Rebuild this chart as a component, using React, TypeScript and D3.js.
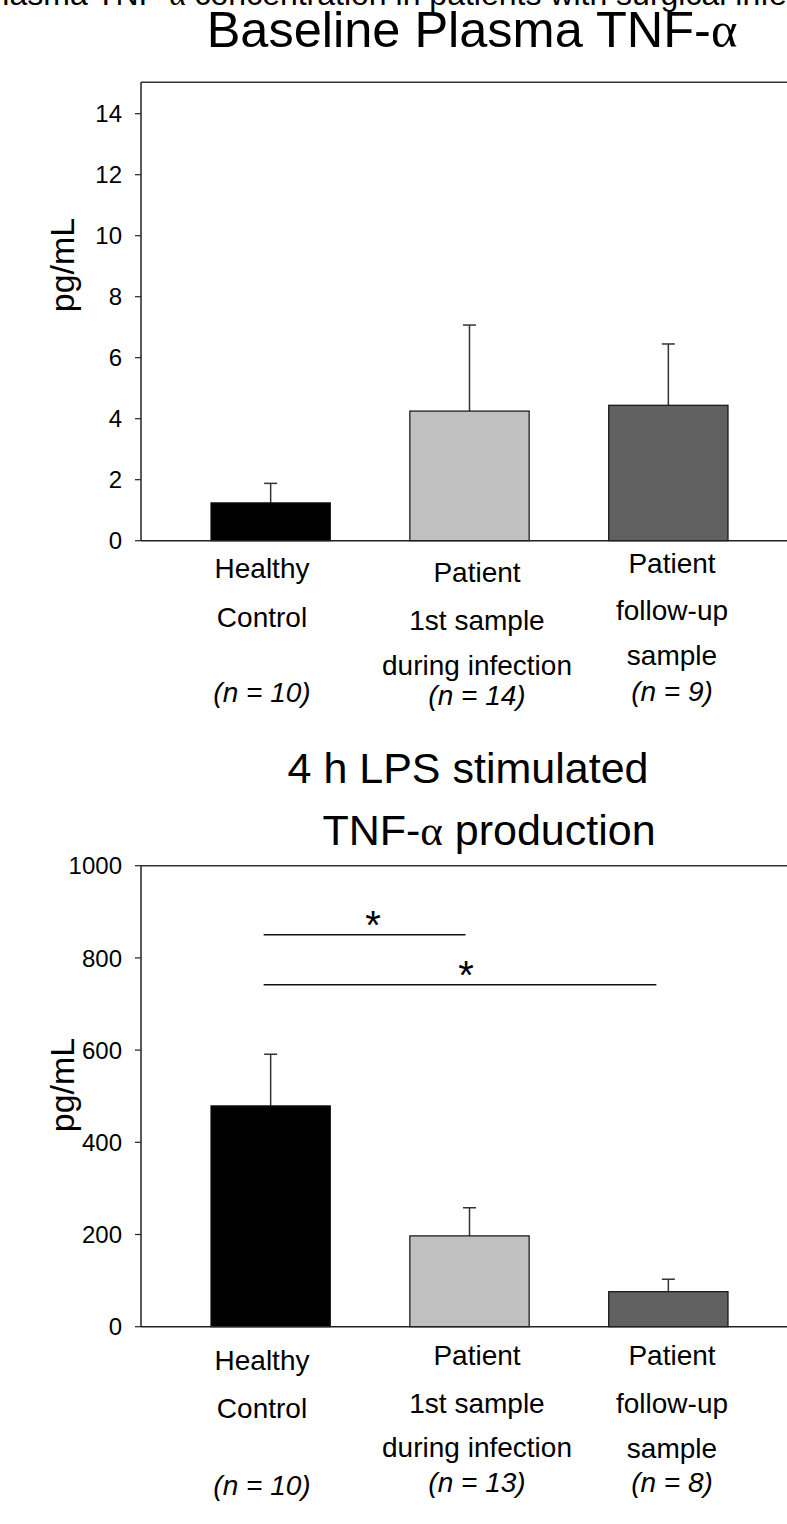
import React from "react";
import * as d3 from "d3";

// ---- data ----
const groups = ["Healthy Control", "Patient 1st sample", "Patient follow-up sample"];
const baselineMean = [1.24, 4.25, 4.44];
const baselineSem = [0.64, 2.82, 2.01];
const lpsMean = [479, 197, 76];
const lpsSem = [112, 61, 27];
const barColors = ["#000000", "#c0c0c0", "#606060"];
const baselineTicks = [0, 2, 4, 6, 8, 10, 12, 14];
const lpsTicks = [0, 200, 400, 600, 800, 1000];

const topLabelLines = [
  ["Healthy", "Control"],
  ["Patient", "1st sample", "during infection"],
  ["Patient", "follow-up", "sample"],
];
const topN = ["(n = 10)", "(n = 14)", "(n = 9)"];
const botLabelLines = topLabelLines;
const botN = ["(n = 10)", "(n = 13)", "(n = 8)"];

// significance brackets: [fromGroup, toGroup, value level]
const sigFrom = [0, 0];
const sigTo = [1, 2];
const sigLevel = [850, 742];

const W = 787;
const H = 1524;
const FONT = "'Liberation Sans', Arial, Helvetica, sans-serif";
const SERIF = "'Liberation Serif', 'Times New Roman', serif";
const AX = 141;

const x = d3
  .scaleBand<string>()
  .domain(groups)
  .range([AX, 798])
  .paddingInner(0.4)
  .paddingOuter(0.352);

const yTop = d3.scaleLinear().domain([0, 15]).range([540.7, 83.2]);
const yBot = d3.scaleLinear().domain([0, 1000]).range([1326.7, 865.7]);

type ChartProps = {
  y: d3.ScaleLinear<number, number>;
  mean: number[];
  sem: number[];
  ticks: number[];
  topY: number;
};

function Chart({ y, mean, sem, ticks, topY }: ChartProps) {
  const y0 = y(0);
  const bw = x.bandwidth();
  return (
    <g>
      {groups.map((g, i) => {
        const cx = (x(g) as number) + bw / 2;
        const top = y(mean[i]);
        const et = y(mean[i] + sem[i]);
        return (
          <g key={g}>
            <line x1={cx} x2={cx} y1={top} y2={et} stroke="#333" strokeWidth={1.5} />
            <line x1={cx - 6.5} x2={cx + 6.5} y1={et} y2={et} stroke="#333" strokeWidth={1.5} />
            <rect
              x={x(g)}
              y={top}
              width={bw}
              height={y0 - top}
              fill={barColors[i]}
              stroke="#111"
              strokeWidth={1.2}
            />
          </g>
        );
      })}
      <line x1={AX} x2={W} y1={topY} y2={topY} stroke="#333" strokeWidth={1.5} />
      <line x1={AX} x2={AX} y1={topY} y2={y0} stroke="#222" strokeWidth={1.5} />
      <line x1={AX} x2={W} y1={y0} y2={y0} stroke="#222" strokeWidth={1.5} />
      {ticks.map((t) => (
        <g key={t}>
          <line x1={AX - 6} x2={AX} y1={y(t)} y2={y(t)} stroke="#222" strokeWidth={1.2} />
          <text
            x={AX - 19}
            y={y(t)}
            dy="0.36em"
            textAnchor="end"
            fontSize={24}
            fontFamily={FONT}
          >
            {t}
          </text>
        </g>
      ))}
    </g>
  );
}

function Labels({
  lines,
  ns,
  baselines,
  nBase,
}: {
  lines: string[][];
  ns: string[];
  baselines: number[][];
  nBase: number[];
}) {
  const centers = [262, 477, 672];
  return (
    <g fontFamily={FONT} fontSize={28} textAnchor="middle">
      {lines.map((ls, i) => (
        <g key={i}>
          {ls.map((l, j) => (
            <text key={j} x={centers[i]} y={baselines[i][j]}>
              {l}
            </text>
          ))}
          <text x={centers[i]} y={nBase[i]} fontStyle="italic">
            {ns[i]}
          </text>
        </g>
      ))}
    </g>
  );
}

export default function App() {
  const bx = (i: number) => (x(groups[i]) as number) + x.bandwidth() / 2;
  return (
    <svg
      width={W}
      height={H}
      viewBox={`0 0 ${W} ${H}`}
      style={{ position: "absolute", left: 0, top: 0, background: "#fff" }}
    >
      <rect x={0} y={0} width={W} height={H} fill="#fff" />
      <text x={-19} y={5} fontSize={32} fontFamily={FONT}>
        Plasma TNF-<tspan fontFamily={SERIF}>α</tspan> concentration in patients with surgical infection
      </text>

      {/* top chart */}
      <text x={472} y={47} textAnchor="middle" fontSize={50.5} fontFamily={FONT}>
        Baseline Plasma TNF-<tspan fontFamily={SERIF}>α</tspan>
      </text>
      <text
        transform={`translate(74,265) rotate(-90)`}
        textAnchor="middle"
        fontSize={34}
        fontFamily={FONT}
      >
        pg/mL
      </text>
      <Chart y={yTop} mean={baselineMean} sem={baselineSem} ticks={baselineTicks} topY={yTop(15) - 1} />
      <Labels
        lines={topLabelLines}
        ns={topN}
        baselines={[
          [578, 627],
          [582, 630, 675],
          [573, 620, 665],
        ]}
        nBase={[702, 705, 701]}
      />

      {/* bottom chart */}
      <text x={468} y={783} textAnchor="middle" fontSize={43} fontFamily={FONT}>
        4 h LPS stimulated
      </text>
      <text x={489} y={845} textAnchor="middle" fontSize={43} fontFamily={FONT}>
        TNF-<tspan fontFamily={SERIF}>α</tspan> production
      </text>
      <text
        transform={`translate(74,1085) rotate(-90)`}
        textAnchor="middle"
        fontSize={34}
        fontFamily={FONT}
      >
        pg/mL
      </text>
      <Chart y={yBot} mean={lpsMean} sem={lpsSem} ticks={lpsTicks} topY={yBot(1000)} />
      {sigFrom.map((f, k) => {
        const x1 = bx(f) - 7;
        const x2 = k === 0 ? bx(sigTo[k]) - 4 : bx(sigTo[k]) - 12;
        const yy = yBot(sigLevel[k]);
        return (
          <g key={k}>
            <line x1={x1} x2={x2} y1={yy} y2={yy} stroke="#111" strokeWidth={1.5} />
            <text
              x={k === 0 ? 373 : 466}
              y={yy + 4}
              textAnchor="middle"
              fontSize={40}
              fontFamily={FONT}
            >
              *
            </text>
          </g>
        );
      })}
      <Labels
        lines={botLabelLines}
        ns={botN}
        baselines={[
          [1370, 1418],
          [1365, 1413, 1457],
          [1365, 1413, 1458],
        ]}
        nBase={[1495, 1492, 1492]}
      />
    </svg>
  );
}
